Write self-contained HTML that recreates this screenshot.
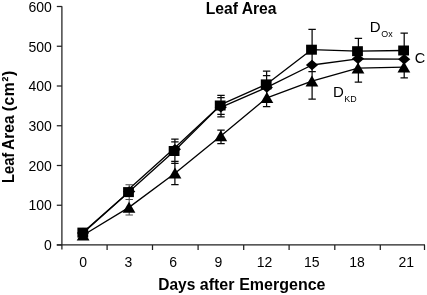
<!DOCTYPE html>
<html><head><meta charset="utf-8"><title>Leaf Area</title>
<style>html,body{margin:0;padding:0;background:#fff;width:427px;height:295px;overflow:hidden}body{position:relative;font-family:"Liberation Sans",sans-serif}</style></head>
<body>
<svg width="427" height="295" viewBox="0 0 427 295" style="position:absolute;left:0;top:0;will-change:transform">
<rect width="427" height="295" fill="#fff"/>
<g stroke="#202020" stroke-width="1.25" fill="none">
<path d="M61.9 6.2 V249.5"/>
<path d="M56.8 244.9 H425"/>
<path d="M56.8 6.50 H61.9"/>
<path d="M56.8 46.25 H61.9"/>
<path d="M56.8 86.00 H61.9"/>
<path d="M56.8 125.75 H61.9"/>
<path d="M56.8 165.50 H61.9"/>
<path d="M56.8 205.25 H61.9"/>
<path d="M56.8 245.00 H61.9"/>
<path d="M107.10 245 V250"/>
<path d="M152.50 245 V250"/>
<path d="M198.10 245 V250"/>
<path d="M243.70 245 V250"/>
<path d="M289.10 245 V250"/>
<path d="M334.80 245 V250"/>
<path d="M380.30 245 V250"/>
<path d="M424.50 245 V250"/>
</g>
<g stroke="#080808" stroke-width="1.25" fill="none">
<path d="M129.20 184.70 V215.00 M125.50 184.70 H132.90 M125.50 199.50 H132.90 M125.50 215.00 H132.90" stroke="#4a4a4a" stroke-width="1.05"/>
<path d="M174.90 139.10 V184.50 M171.20 139.10 H178.60 M171.20 141.80 H178.60 M171.20 161.30 H178.60 M171.20 163.30 H178.60 M171.20 184.50 H178.60"/>
<path d="M221.00 95.40 V116.90 M221.00 130.00 V143.60 M217.30 95.40 H224.70 M217.30 97.60 H224.70 M217.30 114.40 H224.70 M217.30 116.90 H224.70 M217.30 130.00 H224.70 M217.30 143.60 H224.70"/>
<path d="M266.60 71.00 V106.50 M262.90 71.00 H270.30 M262.90 75.70 H270.30 M262.90 106.50 H270.30"/>
<path d="M312.10 29.40 V99.00 M308.40 29.40 H315.80 M308.40 71.70 H315.80 M308.40 99.00 H315.80"/>
<path d="M358.40 38.40 V82.20 M354.70 38.40 H362.10 M354.70 82.20 H362.10"/>
<path d="M404.20 33.20 V77.90 M400.50 33.20 H407.90 M400.50 77.90 H407.90"/>
</g>
<polyline points="83.10,235.30 129.00,207.40 175.00,173.30 220.80,136.00 266.90,97.80 311.90,81.20 358.00,68.20 403.90,67.20" fill="none" stroke="#000" stroke-width="1.32" stroke-linejoin="round"/>
<polyline points="83.00,233.00 123.60,196.70 129.00,189.00 174.90,147.80 220.50,105.20 220.80,107.40 266.80,87.40 312.00,65.00 358.00,58.80 404.20,59.20" fill="none" stroke="#000" stroke-width="1.32" stroke-linejoin="round"/>
<polyline points="82.80,232.60 128.50,192.30 174.10,151.20 220.20,105.60 220.20,104.80 266.20,84.40 311.50,49.70 357.50,51.20 403.60,50.50" fill="none" stroke="#000" stroke-width="1.32" stroke-linejoin="round"/>
<path d="M83.10 229.60 L89.50 240.60 H76.70 Z" fill="#000"/>
<path d="M129.00 201.70 L135.40 212.70 H122.60 Z" fill="#000"/>
<path d="M175.00 167.60 L181.40 178.60 H168.60 Z" fill="#000"/>
<path d="M220.80 130.30 L227.20 141.30 H214.40 Z" fill="#000"/>
<path d="M266.90 92.10 L273.30 103.10 H260.50 Z" fill="#000"/>
<path d="M311.90 75.50 L318.30 86.50 H305.50 Z" fill="#000"/>
<path d="M358.00 62.50 L364.40 73.50 H351.60 Z" fill="#000"/>
<path d="M403.90 61.50 L410.30 72.50 H397.50 Z" fill="#000"/>
<path d="M83.00 227.70 L89.10 233.00 L83.00 238.30 L76.90 233.00 Z" fill="#000"/>
<path d="M129.20 186.30 L135.30 191.60 L129.20 196.90 L123.10 191.60 Z" fill="#000"/>
<path d="M174.90 143.90 L181.00 149.20 L174.90 154.50 L168.80 149.20 Z" fill="#000"/>
<path d="M220.80 101.90 L226.90 107.20 L220.80 112.50 L214.70 107.20 Z" fill="#000"/>
<path d="M266.80 82.10 L272.90 87.40 L266.80 92.70 L260.70 87.40 Z" fill="#000"/>
<path d="M312.00 59.70 L318.10 65.00 L312.00 70.30 L305.90 65.00 Z" fill="#000"/>
<path d="M358.00 53.50 L364.10 58.80 L358.00 64.10 L351.90 58.80 Z" fill="#000"/>
<path d="M404.20 53.90 L410.30 59.20 L404.20 64.50 L398.10 59.20 Z" fill="#000"/>
<rect x="77.40" y="227.60" width="10.8" height="10" fill="#000"/>
<rect x="123.10" y="187.10" width="10.8" height="10" fill="#000"/>
<rect x="168.70" y="146.00" width="10.8" height="10" fill="#000"/>
<rect x="214.80" y="100.50" width="10.8" height="10" fill="#000"/>
<rect x="260.80" y="79.40" width="10.8" height="10" fill="#000"/>
<rect x="306.10" y="44.70" width="10.8" height="10" fill="#000"/>
<rect x="352.10" y="46.20" width="10.8" height="10" fill="#000"/>
<rect x="398.20" y="45.50" width="10.8" height="10" fill="#000"/>
<g font-family="Liberation Sans, sans-serif" fill="#000">
<text x="241.1" y="14.3" font-size="15.7" font-weight="bold" text-anchor="middle">Leaf Area</text>
<g font-size="16" font-weight="bold"><text x="158.3" y="289.8" textLength="37.0" lengthAdjust="spacingAndGlyphs">Days</text><text x="199.8" y="289.8">after</text><text x="239.2" y="289.8">Emergence</text></g>
<g transform="translate(14.4,0) rotate(-90)" font-size="15.6" font-weight="bold"><text x="-183" y="0" textLength="30.2" lengthAdjust="spacingAndGlyphs">Leaf</text><text x="-150.1" y="0">Area</text><text x="-111.2" y="0" textLength="40.4" lengthAdjust="spacing">(cm²)</text></g>
<text x="51.8" y="11.80" font-size="14" text-anchor="end">600</text>
<text x="51.8" y="52.05" font-size="14" text-anchor="end">500</text>
<text x="51.8" y="90.70" font-size="14" text-anchor="end">400</text>
<text x="51.8" y="130.75" font-size="14" text-anchor="end">300</text>
<text x="51.8" y="170.50" font-size="14" text-anchor="end">200</text>
<text x="51.8" y="210.25" font-size="14" text-anchor="end">100</text>
<text x="51.8" y="250.00" font-size="14" text-anchor="end">0</text>
<text x="83.10" y="266.8" font-size="14" text-anchor="middle">0</text>
<text x="128.40" y="266.8" font-size="14" text-anchor="middle">3</text>
<text x="173.20" y="266.8" font-size="14" text-anchor="middle">6</text>
<text x="218.30" y="266.8" font-size="14" text-anchor="middle">9</text>
<text x="264.50" y="266.8" font-size="14" text-anchor="middle">12</text>
<text x="311.80" y="266.8" font-size="14" text-anchor="middle">15</text>
<text x="357.00" y="266.8" font-size="14" text-anchor="middle">18</text>
<text x="406.20" y="266.8" font-size="14" text-anchor="middle">21</text>
<text x="369.8" y="32.1" font-size="15">D</text><text x="381.3" y="36.9" font-size="8.9">Ox</text>
<text x="332.9" y="96.9" font-size="15">D</text><text x="344.3" y="102.1" font-size="8.9">KD</text>
<text x="414.8" y="63.3" font-size="14.5">C</text>
</g>
</svg>
</body></html>
